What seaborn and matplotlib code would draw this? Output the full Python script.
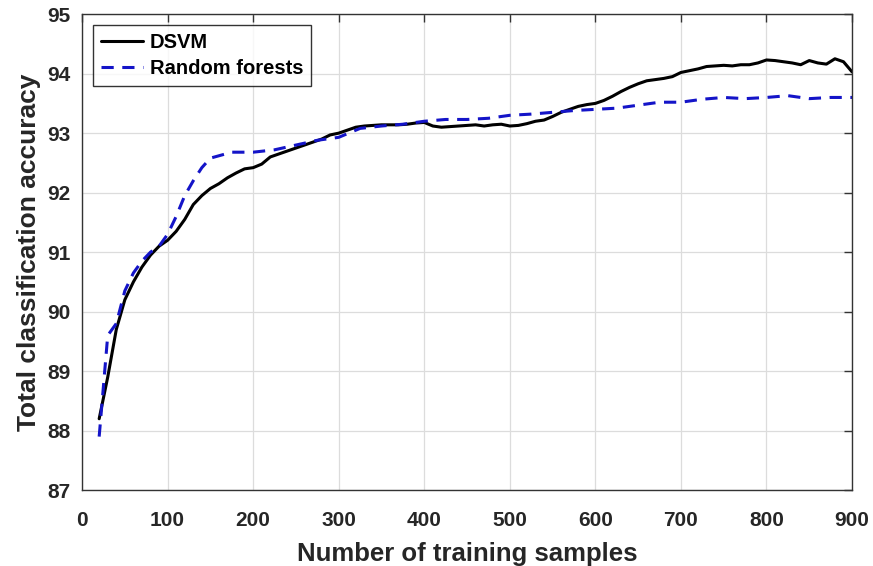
import numpy as np
import pandas as pd
import matplotlib
matplotlib.use("Agg")
import matplotlib.pyplot as plt
import seaborn as sns

# DSVM curve
dsvm_x = list(range(20, 901, 10))
dsvm_y = [88.2, 88.9, 89.7, 90.2, 90.5, 90.75, 90.95, 91.1, 91.2, 91.35,
          91.55, 91.8, 91.95, 92.07, 92.15, 92.25, 92.33, 92.4, 92.42, 92.48,
          92.6, 92.65, 92.7, 92.75, 92.8, 92.85, 92.9, 92.97, 93.0, 93.05,
          93.1, 93.12, 93.13, 93.14, 93.14, 93.14, 93.15, 93.17, 93.18, 93.12,
          93.1, 93.11, 93.12, 93.13, 93.14, 93.12, 93.14, 93.15, 93.12, 93.13,
          93.16, 93.2, 93.22, 93.28, 93.35, 93.4, 93.45, 93.48, 93.5, 93.55,
          93.62, 93.7, 93.77, 93.83, 93.88, 93.9, 93.92, 93.95, 94.02, 94.05,
          94.08, 94.12, 94.13, 94.14, 94.13, 94.15, 94.15, 94.18, 94.23, 94.22,
          94.2, 94.18, 94.15, 94.22, 94.18, 94.16, 94.25, 94.2, 94.03]

# Random forests curve
rf_x = [20, 30, 40, 50, 60, 70, 80, 90, 100, 110, 120, 130, 140, 150,
        175, 200, 225, 250, 275, 300, 325, 350, 375, 400, 425, 450, 475,
        500, 525, 550, 575, 600, 625, 650, 675, 700, 725, 750, 775, 800,
        825, 850, 875, 900]
rf_y = [87.9, 89.6, 89.8, 90.35, 90.65, 90.85, 91.0, 91.1, 91.3, 91.6,
        91.95, 92.2, 92.42, 92.58, 92.68, 92.68, 92.72, 92.8, 92.88, 92.93,
        93.08, 93.12, 93.15, 93.2, 93.23, 93.23, 93.25, 93.3, 93.32, 93.35,
        93.38, 93.4, 93.42, 93.47, 93.52, 93.52, 93.57, 93.6, 93.58, 93.6,
        93.63, 93.58, 93.6, 93.6]

sns.set_style("white")
plt.rcParams['font.family'] = ['Liberation Sans', 'DejaVu Sans']
plt.rcParams['font.weight'] = 'bold'
txt = "#262626"

fig = plt.figure(figsize=(8.73, 5.66), dpi=100)
ax = fig.add_axes([0.094, 0.134, 0.882, 0.841])

sns.lineplot(x=dsvm_x, y=dsvm_y, ax=ax, color="black", linewidth=2.2, label="DSVM")
sns.lineplot(x=rf_x, y=rf_y, ax=ax, color="#1414c8", linewidth=2.2,
             linestyle=(0, (4, 2.8)), label="Random forests")

ax.set_xlim(0, 900)
ax.set_ylim(87, 95)
ax.set_xticks(range(0, 901, 100))
ax.set_yticks(range(87, 96))
ax.grid(True, color="#dcdcdc", linewidth=0.9)
for s in ax.spines.values():
    s.set_color("#333333")
    s.set_linewidth(1.0)
ax.tick_params(direction="in", length=6, top=True, right=True, labelsize=15,
               colors="#333333", labelcolor=txt, width=1)
ax.tick_params(axis="x", pad=15)
ax.tick_params(axis="y", pad=8)
for lbl in ax.get_xticklabels() + ax.get_yticklabels():
    lbl.set_fontweight("bold")

ax.set_xlabel("Number of training samples", fontsize=18.5, fontweight="bold",
              color=txt, labelpad=9)
ax.set_ylabel("Total classification accuracy", fontsize=19, fontweight="bold",
              color=txt, labelpad=5)

leg = ax.legend(loc="upper left", fontsize=14.5, frameon=True, fancybox=False,
                edgecolor="black", handlelength=2.1, handletextpad=0.3,
                borderaxespad=0.55, borderpad=0.4, labelspacing=0.35)
leg.get_frame().set_linewidth(1.0)
for t in leg.get_texts():
    t.set_fontweight("bold")
    t.set_color("black")

fig.savefig("out.png", dpi=100)
